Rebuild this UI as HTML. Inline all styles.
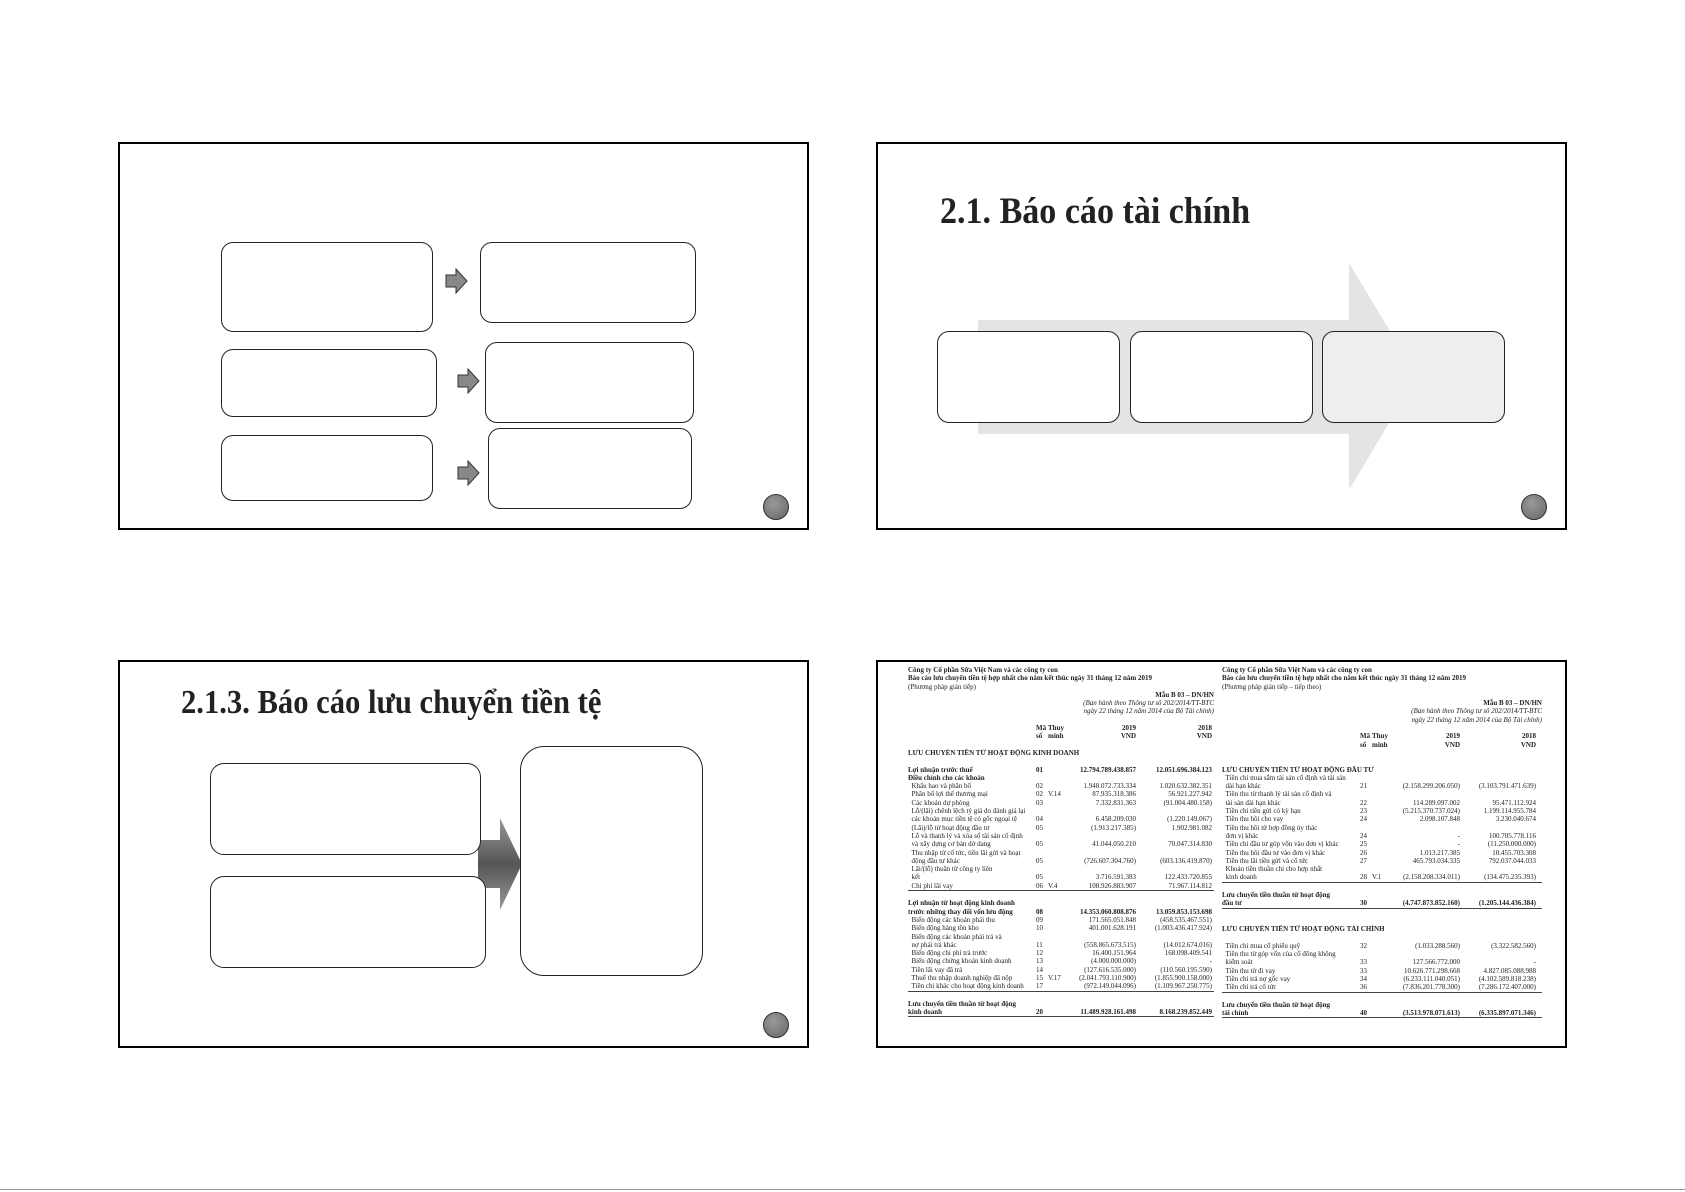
<!DOCTYPE html>
<html><head><meta charset="utf-8">
<style>
body{margin:0;width:1685px;height:1192px;background:#fff;position:relative;overflow:hidden;font-family:"Liberation Serif",serif}
.s{position:absolute;border:2px solid #000;box-sizing:border-box;background:#fff}
.b{position:absolute;border:1.3px solid #222;border-radius:12px;background:#fff;box-sizing:border-box}
.c{position:absolute;width:24px;height:24px;border-radius:50%;background:radial-gradient(circle at 40% 35%,#999,#666);border:1.5px solid #333}
.a{position:absolute}
.t{position:absolute;font-weight:bold;color:#222;white-space:nowrap;transform-origin:0 0}
.tbl{position:absolute;font-size:7px;line-height:8.3px;color:#222;filter:blur(0.35px);font-family:"Liberation Serif",serif}
.tbl div{height:8.3px;white-space:nowrap;overflow:hidden}
.r{display:flex}
.r span{display:inline-block;overflow:hidden}
.r span:nth-child(1){width:128px}
.r span:nth-child(2){width:12px}
.r span:nth-child(3){width:16px}
.r span:nth-child(4){width:72px;text-align:right}
.r span:nth-child(5){width:76px;text-align:right}
.R .r span:nth-child(1){width:138px}
.bd{font-weight:bold}
.rt{text-align:right}
.it{font-style:italic;text-align:right}
.ln{border-bottom:1px solid #444}
</style></head><body>

<!-- Slide 1 -->
<div class="s" style="left:118px;top:142px;width:691px;height:388px"></div>
<div class="b" style="left:221px;top:242px;width:212px;height:90px"></div>
<div class="b" style="left:480px;top:242px;width:216px;height:81px"></div>
<div class="b" style="left:221px;top:349px;width:216px;height:68px"></div>
<div class="b" style="left:485px;top:342px;width:209px;height:81px"></div>
<div class="b" style="left:221px;top:435px;width:212px;height:66px"></div>
<div class="b" style="left:488px;top:428px;width:204px;height:81px"></div>
<svg class="a" style="left:444px;top:268px" width="26" height="26"><polygon points="2,7 12,7 12,1 23,13 12,25 12,19 2,19" fill="#888" stroke="#333" stroke-width="1"/></svg>
<svg class="a" style="left:456px;top:368px" width="26" height="26"><polygon points="2,7 12,7 12,1 23,13 12,25 12,19 2,19" fill="#888" stroke="#333" stroke-width="1"/></svg>
<svg class="a" style="left:456px;top:460px" width="26" height="26"><polygon points="2,7 12,7 12,1 23,13 12,25 12,19 2,19" fill="#888" stroke="#333" stroke-width="1"/></svg>
<div class="c" style="left:763px;top:494px"></div>

<!-- Slide 2 -->
<div class="s" style="left:876px;top:142px;width:691px;height:388px"></div>
<div class="t" style="left:940px;top:190px;font-size:37px;transform:scaleX(0.92)">2.1. Báo cáo tài chính</div>
<svg class="a" style="left:976px;top:262px" width="444" height="230"><polygon points="2,58 373,58 373,1 441,114 373,228 373,172 2,172" fill="#e4e4e4"/></svg>
<div class="b" style="left:937px;top:331px;width:183px;height:92px"></div>
<div class="b" style="left:1130px;top:331px;width:183px;height:92px"></div>
<div class="b" style="left:1322px;top:331px;width:183px;height:92px;background:#eee"></div>
<div class="c" style="left:1521px;top:494px"></div>

<!-- Slide 3 -->
<div class="s" style="left:118px;top:660px;width:691px;height:388px"></div>
<div class="t" style="left:181px;top:684px;font-size:34px;transform:scaleX(0.9)">2.1.3. Báo cáo lưu chuyển tiền tệ</div>
<svg class="a" style="left:478px;top:818px" width="46" height="92"><defs><linearGradient id="g" x1="0" y1="0" x2="0" y2="1"><stop offset="0" stop-color="#999"/><stop offset="0.5" stop-color="#555"/><stop offset="1" stop-color="#999"/></linearGradient></defs><polygon points="0,22 22,22 22,0 44,46 22,92 22,70 0,70" fill="url(#g)"/></svg>
<div class="b" style="left:210px;top:763px;width:271px;height:92px;border-radius:14px"></div>
<div class="b" style="left:210px;top:876px;width:276px;height:92px;border-radius:14px"></div>
<div class="b" style="left:520px;top:746px;width:183px;height:230px;border-radius:24px"></div>
<div class="c" style="left:763px;top:1012px"></div>

<!-- Slide 4 -->
<div class="s" style="left:876px;top:660px;width:691px;height:388px"></div>
<div class="tbl" style="left:908px;top:666px;width:306px">
<div class="bd">Công ty Cổ phần Sữa Việt Nam và các công ty con</div>
<div class="bd">Báo cáo lưu chuyển tiền tệ hợp nhất cho năm kết thúc ngày 31 tháng 12 năm 2019</div>
<div>(Phương pháp gián tiếp)</div>
<div class="rt bd">Mẫu B 03 – DN/HN</div>
<div class="it">(Ban hành theo Thông tư số 202/2014/TT-BTC</div>
<div class="it">ngày 22 tháng 12 năm 2014 của Bộ Tài chính)</div>
<div></div>
<div class="r bd"><span></span><span>Mã</span><span>Thuyết</span><span>2019</span><span>2018</span></div>
<div class="r bd"><span></span><span>số</span><span>minh</span><span>VND</span><span>VND</span></div>
<div></div>
<div class="bd">LƯU CHUYỂN TIỀN TỪ HOẠT ĐỘNG KINH DOANH</div>
<div></div>
<div class="r bd"><span>Lợi nhuận trước thuế</span><span>01</span><span></span><span>12.794.789.438.857</span><span>12.051.696.384.123</span></div>
<div class="bd">Điều chỉnh cho các khoản</div>
<div class="r"><span>&nbsp;&nbsp;Khấu hao và phân bổ</span><span>02</span><span></span><span>1.948.072.733.334</span><span>1.020.632.382.351</span></div>
<div class="r"><span>&nbsp;&nbsp;Phân bổ lợi thế thương mại</span><span>02</span><span>V.14</span><span>87.935.318.386</span><span>56.921.227.942</span></div>
<div class="r"><span>&nbsp;&nbsp;Các khoản dự phòng</span><span>03</span><span></span><span>7.332.831.363</span><span>(91.004.480.158)</span></div>
<div class="r"><span>&nbsp;&nbsp;Lỗ/(lãi) chênh lệch tỷ giá do đánh giá lại</span></div>
<div class="r"><span>&nbsp;&nbsp;các khoản mục tiền tệ có gốc ngoại tệ</span><span>04</span><span></span><span>6.458.209.030</span><span>(1.220.149.067)</span></div>
<div class="r"><span>&nbsp;&nbsp;(Lãi)/lỗ từ hoạt động đầu tư</span><span>05</span><span></span><span>(1.913.217.385)</span><span>1.902.981.082</span></div>
<div class="r"><span>&nbsp;&nbsp;Lỗ và thanh lý và xóa sổ tài sản cố định</span></div>
<div class="r"><span>&nbsp;&nbsp;và xây dựng cơ bản dở dang</span><span>05</span><span></span><span>41.044.050.210</span><span>70.047.314.830</span></div>
<div class="r"><span>&nbsp;&nbsp;Thu nhập từ cổ tức, tiền lãi gửi và hoạt</span></div>
<div class="r"><span>&nbsp;&nbsp;động đầu tư khác</span><span>05</span><span></span><span>(726.607.304.760)</span><span>(603.136.419.870)</span></div>
<div class="r"><span>&nbsp;&nbsp;Lãi/(lỗ) thuần từ công ty liên</span></div>
<div class="r"><span>&nbsp;&nbsp;kết</span><span>05</span><span></span><span>3.716.591.383</span><span>122.433.720.855</span></div>
<div class="r ln"><span>&nbsp;&nbsp;Chi phí lãi vay</span><span>06</span><span>V.4</span><span>108.926.883.907</span><span>71.967.114.812</span></div>
<div></div>
<div class="r bd"><span>Lợi nhuận từ hoạt động kinh doanh</span></div>
<div class="r bd"><span>trước những thay đổi vốn lưu động</span><span>08</span><span></span><span>14.353.060.808.876</span><span>13.059.853.153.698</span></div>
<div class="r"><span>&nbsp;&nbsp;Biến động các khoản phải thu</span><span>09</span><span></span><span>171.565.051.848</span><span>(458.535.467.551)</span></div>
<div class="r"><span>&nbsp;&nbsp;Biến động hàng tồn kho</span><span>10</span><span></span><span>401.001.628.191</span><span>(1.003.436.417.924)</span></div>
<div class="r"><span>&nbsp;&nbsp;Biến động các khoản phải trả và</span></div>
<div class="r"><span>&nbsp;&nbsp;nợ phải trả khác</span><span>11</span><span></span><span>(558.865.673.515)</span><span>(14.012.674.016)</span></div>
<div class="r"><span>&nbsp;&nbsp;Biến động chi phí trả trước</span><span>12</span><span></span><span>16.400.151.964</span><span>168.098.409.541</span></div>
<div class="r"><span>&nbsp;&nbsp;Biến động chứng khoán kinh doanh</span><span>13</span><span></span><span>(4.000.000.000)</span><span>-</span></div>
<div class="r"><span>&nbsp;&nbsp;Tiền lãi vay đã trả</span><span>14</span><span></span><span>(127.616.535.000)</span><span>(110.560.195.590)</span></div>
<div class="r"><span>&nbsp;&nbsp;Thuế thu nhập doanh nghiệp đã nộp</span><span>15</span><span>V.17</span><span>(2.041.793.110.900)</span><span>(1.855.900.158.000)</span></div>
<div class="r ln"><span>&nbsp;&nbsp;Tiền chi khác cho hoạt động kinh doanh</span><span>17</span><span></span><span>(972.149.044.096)</span><span>(1.109.967.250.775)</span></div>
<div></div>
<div class="r bd"><span>Lưu chuyển tiền thuần từ hoạt động</span></div>
<div class="r bd ln"><span>kinh doanh</span><span>20</span><span></span><span>11.489.928.161.498</span><span>8.168.239.852.449</span></div>
</div>

<div class="tbl R" style="left:1222px;top:666px;width:320px">
<div class="bd">Công ty Cổ phần Sữa Việt Nam và các công ty con</div>
<div class="bd">Báo cáo lưu chuyển tiền tệ hợp nhất cho năm kết thúc ngày 31 tháng 12 năm 2019</div>
<div>(Phương pháp gián tiếp – tiếp theo)</div>
<div></div>
<div class="rt bd">Mẫu B 03 – DN/HN</div>
<div class="it">(Ban hành theo Thông tư số 202/2014/TT-BTC</div>
<div class="it">ngày 22 tháng 12 năm 2014 của Bộ Tài chính)</div>
<div></div>
<div class="r bd"><span></span><span>Mã</span><span>Thuyết</span><span>2019</span><span>2018</span></div>
<div class="r bd"><span></span><span>số</span><span>minh</span><span>VND</span><span>VND</span></div>
<div></div>
<div></div>
<div class="bd">LƯU CHUYỂN TIỀN TỪ HOẠT ĐỘNG ĐẦU TƯ</div>
<div class="r"><span>&nbsp;&nbsp;Tiền chi mua sắm tài sản cố định và tài sản</span></div>
<div class="r"><span>&nbsp;&nbsp;dài hạn khác</span><span>21</span><span></span><span>(2.158.299.206.050)</span><span>(3.103.791.471.639)</span></div>
<div class="r"><span>&nbsp;&nbsp;Tiền thu từ thanh lý tài sản cố định và</span></div>
<div class="r"><span>&nbsp;&nbsp;tài sản dài hạn khác</span><span>22</span><span></span><span>114.289.097.002</span><span>95.471.112.924</span></div>
<div class="r"><span>&nbsp;&nbsp;Tiền chi tiền gửi có kỳ hạn</span><span>23</span><span></span><span>(5.215.370.737.024)</span><span>1.199.114.955.784</span></div>
<div class="r"><span>&nbsp;&nbsp;Tiền thu hồi cho vay</span><span>24</span><span></span><span>2.098.107.848</span><span>3.230.040.674</span></div>
<div class="r"><span>&nbsp;&nbsp;Tiền thu hồi từ hợp đồng ủy thác</span></div>
<div class="r"><span>&nbsp;&nbsp;đơn vị khác</span><span>24</span><span></span><span>-</span><span>100.705.778.116</span></div>
<div class="r"><span>&nbsp;&nbsp;Tiền chi đầu tư góp vốn vào đơn vị khác</span><span>25</span><span></span><span>-</span><span>(11.250.000.000)</span></div>
<div class="r"><span>&nbsp;&nbsp;Tiền thu hồi đầu tư vào đơn vị khác</span><span>26</span><span></span><span>1.013.217.385</span><span>10.455.703.308</span></div>
<div class="r"><span>&nbsp;&nbsp;Tiền thu lãi tiền gửi và cổ tức</span><span>27</span><span></span><span>465.793.034.335</span><span>792.037.044.033</span></div>
<div class="r"><span>&nbsp;&nbsp;Khoản tiền thuần chi cho hợp nhất</span></div>
<div class="r ln"><span>&nbsp;&nbsp;kinh doanh</span><span>28</span><span>V.1</span><span>(2.158.208.334.011)</span><span>(134.475.235.393)</span></div>
<div></div>
<div class="r bd"><span>Lưu chuyển tiền thuần từ hoạt động</span></div>
<div class="r bd ln"><span>đầu tư</span><span>30</span><span></span><span>(4.747.873.852.160)</span><span>(1.205.144.436.384)</span></div>
<div></div>
<div></div>
<div class="bd">LƯU CHUYỂN TIỀN TỪ HOẠT ĐỘNG TÀI CHÍNH</div>
<div></div>
<div class="r"><span>&nbsp;&nbsp;Tiền chi mua cổ phiếu quỹ</span><span>32</span><span></span><span>(1.033.288.560)</span><span>(3.322.582.560)</span></div>
<div class="r"><span>&nbsp;&nbsp;Tiền thu từ góp vốn của cổ đông không</span></div>
<div class="r"><span>&nbsp;&nbsp;kiểm soát</span><span>33</span><span></span><span>127.566.772.000</span><span>-</span></div>
<div class="r"><span>&nbsp;&nbsp;Tiền thu từ đi vay</span><span>33</span><span></span><span>10.626.771.298.668</span><span>4.827.085.088.988</span></div>
<div class="r"><span>&nbsp;&nbsp;Tiền chi trả nợ gốc vay</span><span>34</span><span></span><span>(6.233.111.040.051)</span><span>(4.102.589.818.238)</span></div>
<div class="r ln"><span>&nbsp;&nbsp;Tiền chi trả cổ tức</span><span>36</span><span></span><span>(7.836.201.778.300)</span><span>(7.286.172.407.000)</span></div>
<div></div>
<div class="r bd"><span>Lưu chuyển tiền thuần từ hoạt động</span></div>
<div class="r bd ln"><span>tài chính</span><span>40</span><span></span><span>(3.513.978.071.613)</span><span>(6.335.897.071.346)</span></div>
</div>

<div class="a" style="left:0;top:1189px;width:1685px;height:1px;background:#999"></div>
</body></html>
